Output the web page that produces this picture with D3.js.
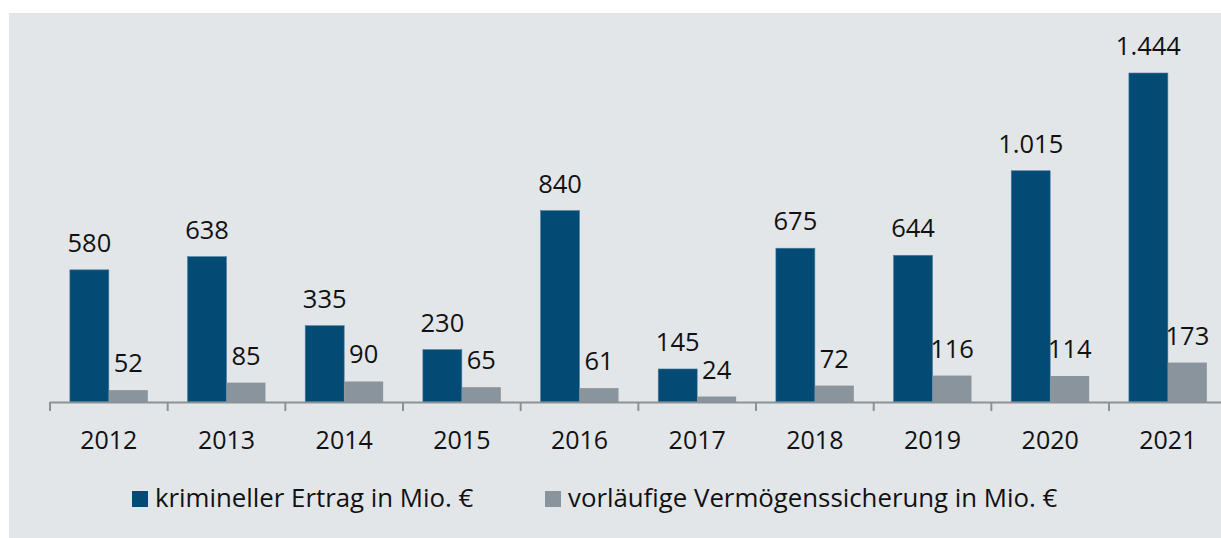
<!DOCTYPE html>
<html>
<head>
<meta charset="utf-8">
<script src="https://d3js.org/d3.v7.min.js"></script>
<style>
	body { margin: 0; background: #ffffff; }
	text { font-family: 'Open Sans', sans-serif; fill: #111111; }
	.value { font-size: 25.5px; text-anchor: middle; }
	.axis text { font-size: 25px; }
	.legend text { font-size: 25.8px; }
</style>
</head>
<body>
<div id="chart"></div>
<script>
	var years = ["2012", "2013", "2014", "2015", "2016", "2017", "2018", "2019", "2020", "2021"];
	var ertrag = [580, 638, 335, 230, 840, 145, 675, 644, 1015, 1444];
	var sicherung = [52, 85, 90, 65, 61, 24, 72, 116, 114, 173];
	var seriesNames = ["krimineller Ertrag in Mio. €", "vorläufige Vermögenssicherung in Mio. €"];
	var seriesColors = ["#034a75", "#89949c"];

	var width = 1221, height = 538;
	var baseY = 402;

	var svg = d3.select("#chart").append("svg")
		.attr("width", width)
		.attr("height", height);

	// grey panel
	svg.append("rect")
		.attr("x", 9).attr("y", 13)
		.attr("width", width - 9).attr("height", height - 13)
		.attr("fill", "#e2e6e9");

	var x = d3.scaleBand().domain(years).range([50, 50 + 117.67 * years.length]);
	var xs = d3.scaleBand().domain([0, 1]).range([0, x.bandwidth()]).paddingOuter(0.51);
	var y = d3.scaleLinear().domain([0, 1444]).range([baseY, 73]);

	var de = d3.formatLocale({ decimal: ",", thousands: ".", grouping: [3], currency: ["", " €"] });
	var fmt = de.format(",");

	var rows = years.map(function (yr, i) {
		return { year: yr, values: [ertrag[i], sicherung[i]] };
	});

	var groups = svg.selectAll(".year")
		.data(rows)
		.enter().append("g")
		.attr("class", "year")
		.attr("transform", function (d) { return "translate(" + x(d.year) + ",0)"; });

	var cells = groups.selectAll(".cell")
		.data(function (d) { return d.values.map(function (v, s) { return { s: s, v: v }; }); })
		.enter();

	cells.append("rect")
		.attr("x", function (d) { return xs(d.s); })
		.attr("y", function (d) { return y(d.v); })
		.attr("width", xs.bandwidth())
		.attr("height", function (d) { return baseY - y(d.v); })
		.attr("fill", function (d) { return seriesColors[d.s]; })
		.attr("stroke", function (d) { return d.s == 0 ? "#4d7fa0" : "none"; })
		.attr("stroke-width", 0.6);

	cells.append("text")
		.attr("class", "value")
		.attr("x", function (d) { return xs(d.s) + xs.bandwidth() / 2; })
		.attr("y", function (d) { return y(d.v) - 18; })
		.text(function (d) { return fmt(d.v); });

	// axis
	svg.append("line")
		.attr("x1", 50).attr("x2", width)
		.attr("y1", baseY + 0.5).attr("y2", baseY + 0.5)
		.attr("stroke", "#8c9196").attr("stroke-width", 2);

	svg.selectAll(".tick-mark")
		.data(years)
		.enter().append("line")
		.attr("class", "tick-mark")
		.attr("x1", function (d) { return x(d); })
		.attr("x2", function (d) { return x(d); })
		.attr("y1", baseY).attr("y2", baseY + 9)
		.attr("stroke", "#8c9196").attr("stroke-width", 2);

	var axis = svg.append("g")
		.attr("class", "axis")
		.attr("transform", "translate(0," + baseY + ")")
		.call(d3.axisBottom(x).tickSize(0).tickPadding(0));
	axis.select(".domain").remove();
	axis.selectAll("text")
		.attr("y", 47).attr("dy", null)
		.attr("fill", "#111111");

	// legend
	var legendX = [132, 545];
	var legend = svg.selectAll(".legend")
		.data(seriesNames)
		.enter().append("g")
		.attr("class", "legend")
		.attr("transform", function (d, i) { return "translate(" + legendX[i] + ",491)"; });

	legend.append("rect")
		.attr("width", 16).attr("height", 16)
		.attr("fill", function (d, i) { return seriesColors[i]; });

	legend.append("text")
		.attr("x", 23).attr("y", 16)
		.text(function (d) { return d; });
</script>
</body>
</html>
